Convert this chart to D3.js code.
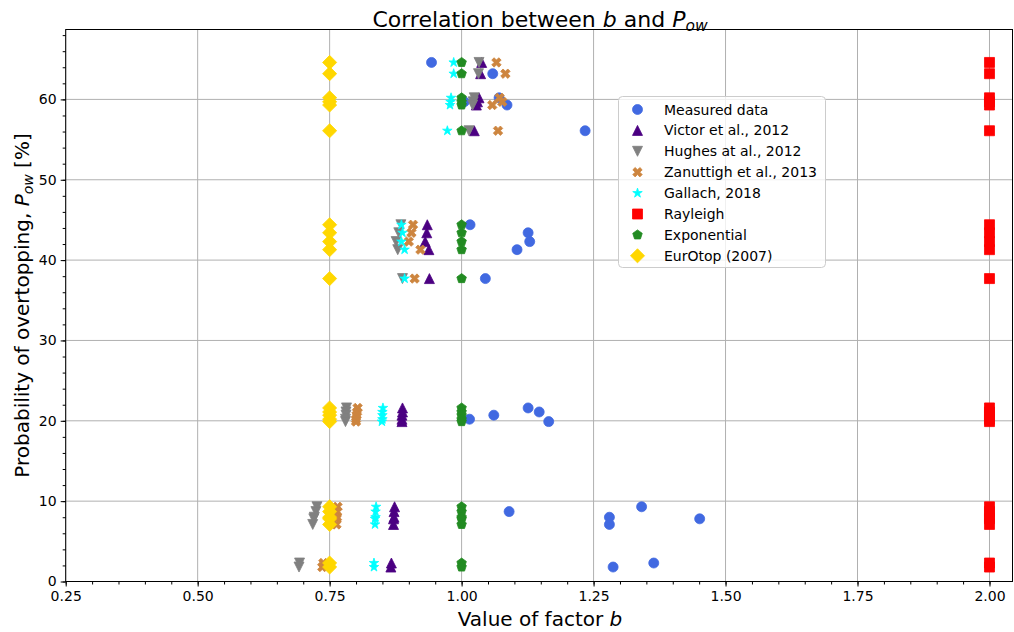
<!DOCTYPE html>
<html>
<head>
<meta charset="utf-8">
<script src="https://cdn.jsdelivr.net/npm/d3@7"></script>
<style>
  html, body { margin: 0; padding: 0; background: #fff; }
  svg { display: block; font-family: "DejaVu Sans", sans-serif; }
</style>
</head>
<body>
<svg id="chart" width="1014" height="632"></svg>
<script>
// ---- data ----
const powLevels = [64.6, 63.2, 60.2, 59.7, 59.3, 56.1,
                   44.4, 43.4, 42.3, 41.3, 37.7,
                   21.6, 21.1, 20.7, 20.2, 19.9,
                   9.3, 8.7, 8.0, 7.8, 7.1,
                   2.3, 1.8];
const measuredB = [0.943, 1.059, 1.071, 1.005, 1.086, 1.234,
                   1.016, 1.126, 1.129, 1.105, 1.045,
                   1.126, 1.147, 1.061, 1.015, 1.165,
                   1.341, 1.090, 1.280, 1.451, 1.280,
                   1.364, 1.287];
const victorB = [1.038, 1.036, 1.033, 1.030, 1.028, 1.024,
                 0.935, 0.934, 0.931, 0.938, 0.939,
                 0.888, 0.888, 0.887, 0.887, 0.887,
                 0.873, 0.872, 0.872, 0.871, 0.871,
                 0.867, 0.866];
const hughesB = [1.033, 1.032, 1.024, 1.022, 1.021, 1.014,
                 0.885, 0.881, 0.876, 0.879, 0.888,
                 0.782, 0.781, 0.781, 0.780, 0.780,
                 0.726, 0.724, 0.721, 0.720, 0.718,
                 0.693, 0.692];
const zanuttighB = [1.066, 1.083, 1.072, 1.077, 1.058, 1.069,
                    0.908, 0.905, 0.900, 0.922, 0.911,
                    0.803, 0.802, 0.801, 0.800, 0.800,
                    0.765, 0.764, 0.764, 0.763, 0.763,
                    0.738, 0.736];
const gallachB = [0.985, 0.985, 0.980, 0.979, 0.978, 0.973,
                  0.886, 0.888, 0.886, 0.892, 0.892,
                  0.851, 0.850, 0.850, 0.850, 0.849,
                  0.838, 0.837, 0.837, 0.836, 0.836,
                  0.834, 0.834];
const rayleighB = [2.0, 2.0, 2.0, 2.0, 2.0, 2.0,
                   2.0, 2.0, 2.0, 2.0, 2.0,
                   2.0, 2.0, 2.0, 2.0, 2.0,
                   2.0, 2.0, 2.0, 2.0, 2.0,
                   2.0, 2.0];
const exponentialB = [1.0, 1.0, 1.0, 1.0, 1.0, 1.0,
                      1.0, 1.0, 1.0, 1.0, 1.0,
                      1.0, 1.0, 1.0, 1.0, 1.0,
                      1.0, 1.0, 1.0, 1.0, 1.0,
                      1.0, 1.0];
const eurotopB = [0.75, 0.75, 0.75, 0.75, 0.75, 0.75,
                  0.75, 0.75, 0.75, 0.75, 0.75,
                  0.75, 0.75, 0.75, 0.75, 0.75,
                  0.75, 0.75, 0.75, 0.75, 0.75,
                  0.75, 0.75];
const seriesNames = ["Measured data", "Victor et al., 2012", "Hughes at al., 2012",
                     "Zanuttigh et al., 2013", "Gallach, 2018", "Rayleigh",
                     "Exponential", "EurOtop (2007)"];
const xTicks = [0.25, 0.50, 0.75, 1.00, 1.25, 1.50, 1.75, 2.00];
const yTicks = [0, 10, 20, 30, 40, 50, 60];

// ---- styles ----
const colors = ["#4169E1", "#4B0082", "#808080", "#CD853F", "#00FFFF", "#FF0000", "#228B22", "#FFD700"];
const shapes = ["circle", "triUp", "triDown", "xFilled", "star", "square", "pentagon", "diamond"];
const bValues = [measuredB, victorB, hughesB, zanuttighB, gallachB, rayleighB, exponentialB, eurotopB];

const ms = 10; // marker size in px
function markerPath(shape) {
  const h = ms / 2;
  const p = d3.path();
  const poly = pts => { pts.forEach((q, i) => i ? p.lineTo(q[0], q[1]) : p.moveTo(q[0], q[1])); p.closePath(); };
  switch (shape) {
    case "circle": p.arc(0, 0, h, 0, 2 * Math.PI); break;
    case "triUp": poly([[0, -h], [h, h], [-h, h]]); break;
    case "triDown": poly([[0, h], [h, -h], [-h, -h]]); break;
    case "square": poly([[-h, -h], [h, -h], [h, h], [-h, h]]); break;
    case "diamond": { const d = h * 1.414; poly([[0, -d], [d, 0], [0, d], [-d, 0]]); break; }
    case "pentagon": {
      const pts = [];
      for (let i = 0; i < 5; i++) { const a = -Math.PI / 2 + i * 2 * Math.PI / 5; pts.push([h * Math.cos(a), h * Math.sin(a)]); }
      poly(pts); break;
    }
    case "star": {
      const pts = [], r2 = h * 0.381966;
      for (let i = 0; i < 10; i++) { const a = -Math.PI / 2 + i * Math.PI / 5; const r = i % 2 ? r2 : h; pts.push([r * Math.cos(a), r * Math.sin(a)]); }
      poly(pts); break;
    }
    case "xFilled": {
      const base = [[-1, -3], [1, -3], [1, -1], [3, -1], [3, 1], [1, 1], [1, 3], [-1, 3], [-1, 1], [-3, 1], [-3, -1], [-1, -1]]
        .map(q => [q[0] / 6 * ms, q[1] / 6 * ms]);
      const c = Math.SQRT1_2;
      poly(base.map(q => [(q[0] - q[1]) * c, (q[0] + q[1]) * c]));
      break;
    }
  }
  return p.toString();
}

// ---- layout ----
const svg = d3.select("#chart");
const mLeft = 65.7, mRight = 1012.5, mTop = 29.5, mBottom = 581.5;
const x = d3.scaleLinear().domain([0.25, 2.0436]).range([mLeft, mRight]);
const y = d3.scaleLinear().domain([0, 68.7]).range([mBottom, mTop]);

// grid
const grid = svg.append("g");
grid.selectAll("line.gx").data(xTicks).join("line")
  .attr("x1", d => x(d)).attr("x2", d => x(d)).attr("y1", mTop).attr("y2", mBottom)
  .attr("stroke", "#b0b0b0").attr("stroke-width", 1);
grid.selectAll("line.gy").data(yTicks).join("line")
  .attr("y1", d => y(d)).attr("y2", d => y(d)).attr("x1", mLeft).attr("x2", mRight)
  .attr("stroke", "#b0b0b0").attr("stroke-width", 1);

// axes
const xAxis = d3.axisBottom(x).tickValues(xTicks).tickFormat(d3.format(".2f")).tickSize(5).tickPadding(5);
const yAxis = d3.axisLeft(y).tickValues(yTicks).tickFormat(d3.format("d")).tickSize(5).tickPadding(4);
const xMinor = d3.axisBottom(x).tickValues(d3.range(0.25, 2.04, 0.05)).tickFormat("").tickSize(3);
const yMinor = d3.axisLeft(y).tickValues(d3.range(0, 68.7, 2)).tickFormat("").tickSize(3);

function styleAxis(g) {
  g.select(".domain").remove();
  g.selectAll("line").attr("stroke", "#000").attr("stroke-width", 1);
  g.selectAll("text").attr("font-size", 14).attr("fill", "#000").attr("font-family", "DejaVu Sans");
}
svg.append("g").attr("transform", `translate(0,${mBottom})`).call(xMinor).call(styleAxis);
svg.append("g").attr("transform", `translate(${mLeft},0)`).call(yMinor).call(styleAxis);
svg.append("g").attr("transform", `translate(0,${mBottom})`).call(xAxis).call(styleAxis);
svg.append("g").attr("transform", `translate(${mLeft},0)`).call(yAxis).call(styleAxis);

// points
const plot = svg.append("g");
bValues.forEach((arr, si) => {
  const path = markerPath(shapes[si]);
  plot.append("g").selectAll("path").data(arr.map((b, i) => ({ b, p: powLevels[i] }))).join("path")
    .attr("d", path)
    .attr("transform", d => `translate(${x(d.b)},${y(d.p)})`)
    .attr("fill", colors[si]).attr("stroke", colors[si]).attr("stroke-width", 0.8);
});

// frame
svg.append("rect").attr("x", mLeft).attr("y", mTop).attr("width", mRight - mLeft).attr("height", mBottom - mTop)
  .attr("fill", "none").attr("stroke", "#000").attr("stroke-width", 1);

// legend
const lg = svg.append("g");
lg.append("rect").attr("x", 618.5).attr("y", 96.5).attr("width", 207).attr("height", 171).attr("rx", 4)
  .attr("fill", "#fff").attr("fill-opacity", 0.8).attr("stroke", "#cccccc").attr("stroke-width", 1);
seriesNames.forEach((name, i) => {
  const yy = 109.5 + i * 20.9;
  lg.append("path").attr("d", markerPath(shapes[i])).attr("transform", `translate(637.5,${yy})`)
    .attr("fill", colors[i]).attr("stroke", colors[i]).attr("stroke-width", 0.8);
  lg.append("text").attr("x", 664).attr("y", yy + 5).attr("font-size", 14).attr("fill", "#000").text(name);
});

// title
const title = svg.append("text").attr("x", 540).attr("y", 27).attr("text-anchor", "middle")
  .attr("font-size", 22).attr("fill", "#000");
title.append("tspan").text("Correlation between ");
title.append("tspan").attr("font-style", "italic").text("b");
title.append("tspan").text(" and ");
title.append("tspan").attr("font-style", "italic").text("P");
title.append("tspan").attr("font-style", "italic").attr("font-size", 15.5).attr("dy", 4).text("ow");

// x label
const xl = svg.append("text").attr("x", 540).attr("y", 626).attr("text-anchor", "middle")
  .attr("font-size", 20).attr("fill", "#000");
xl.append("tspan").text("Value of factor ");
xl.append("tspan").attr("font-style", "italic").text("b");

// y label
const yl = svg.append("text").attr("transform", `translate(29,${(mTop + mBottom) / 2}) rotate(-90)`)
  .attr("text-anchor", "middle").attr("font-size", 20).attr("fill", "#000");
yl.append("tspan").text("Probability of overtopping, ");
yl.append("tspan").attr("font-style", "italic").text("P");
yl.append("tspan").attr("font-style", "italic").attr("font-size", 14).attr("dy", 4).text("ow");
yl.append("tspan").attr("dy", -4).text(" [%]");
</script>
</body>
</html>
